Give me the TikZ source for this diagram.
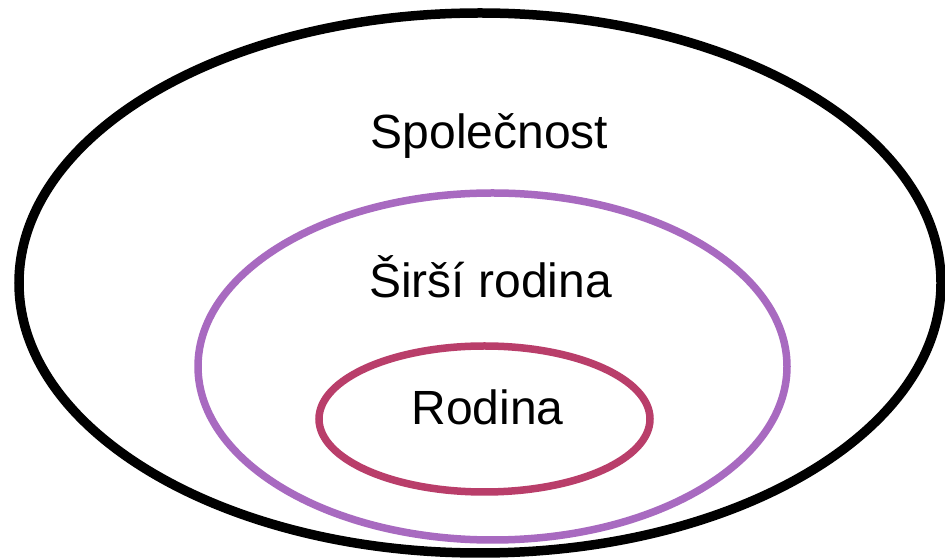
\documentclass[tikz,border=0pt]{standalone}
\usepackage{fontspec}
\setmainfont{Liberation Sans}
\definecolor{ringpurple}{RGB}{168,106,192}
\definecolor{ringred}{RGB}{185,62,106}
\begin{document}
\begin{tikzpicture}[x=1pt,y=1pt,
  ring/.style={line width=#1},
  label/.style={anchor=base,inner sep=0pt,font=\fontsize{48}{58}\selectfont}]
\useasboundingbox (0,0) rectangle (945,559);
\fill[white] (0,0) rectangle (945,559);
\draw[ring=9.5pt,black] (480,276) ellipse [x radius=461, y radius=270];
\draw[ring=7.5pt,ringpurple] (492.5,192.5) ellipse [x radius=294.5, y radius=173.5];
\draw[ring=7.5pt,ringred] (484.5,140) ellipse [x radius=165.5, y radius=73];
\node[label] (spol) at (489.5,410) {Společnost};
\node[label] (sirsi) at (490.5,261) {Širší rodina};
\node[label] (rod) at (487.5,134) {Rodina};
\end{tikzpicture}
\end{document}
